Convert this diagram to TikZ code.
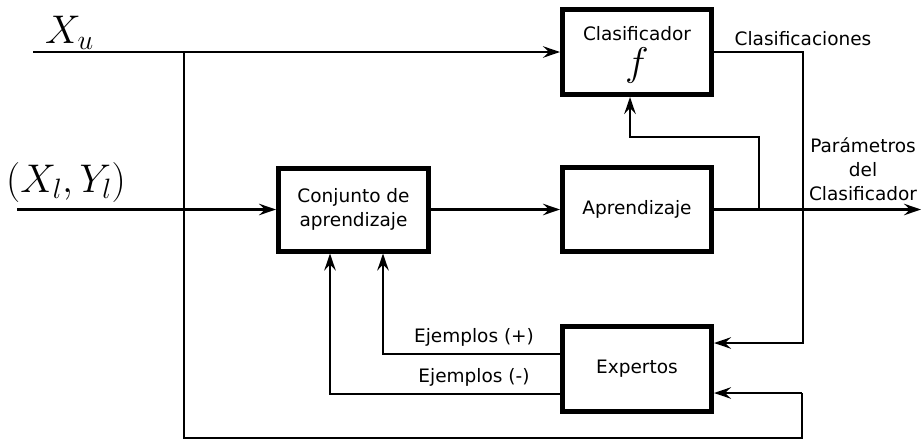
\RequirePackage{fix-cm}
\documentclass[tikz,border=0pt]{standalone}
\usepackage[no-math]{fontspec}
\newfontfamily\djv{DejaVu Sans}
\usetikzlibrary{arrows.meta}
\begin{document}
\begin{tikzpicture}[x=1pt,y=-1pt,
 box/.style={draw, line width=5pt, minimum width=149pt, minimum height=85pt, inner sep=0pt, font=\djv\fontsize{18.5}{24}\selectfont, align=center},
 txt/.style={inner sep=0pt, font=\djv\fontsize{18.5}{24}\selectfont, align=center},
 mth/.style={inner sep=0pt, font=\fontsize{40}{44}\selectfont},
 conn/.style={line width=2.2pt},
 arr/.style={conn, -{Stealth[length=17pt,width=11.5pt,inset=6pt]}}]
\useasboundingbox (0,0) rectangle (921,440);
% boxes
\node[box] (clas) at (637,52) {};
\node[box, minimum height=84pt] (apr) at (637,209.5) {Aprendizaje};
\node[box, minimum width=150pt, minimum height=83pt] (conj) at (353.5,209.5) {Conjunto de\\aprendizaje};
\node[box] (exp) at (637,369) {Expertos};
% texts
\node[txt, anchor=base] (tclas) at (637,40) {Clasificador};
\node[mth, anchor=base] (tf) at (637,75) {$f$};
\node[mth, anchor=base west] (txu) at (45,43) {$X_u$};
\node[mth, anchor=base west] (txl) at (6,192) {$(X_l,Y_l)$};
\node[txt, anchor=base] (tcl) at (803,45) {Clasificaciones};
\node[txt] (tpar) at (863,169) {Parámetros\\del\\Clasificador};
\node[txt] (tep) at (474,337) {Ejemplos (+)};
\node[txt] (tem) at (474,377) {Ejemplos (-)};
% coordinates
\coordinate (xu) at (33,52);
\coordinate (b1) at (184,52);
\coordinate (b2) at (184,438);
\coordinate (b3) at (802,393);
\coordinate (xl) at (17,209.5);
\coordinate (c1) at (803,343);
\coordinate (out) at (921,209.5);
\coordinate (bp) at (759,209.5);
\coordinate (c2) at (630,137);
\coordinate (p1) at (383,354);
\coordinate (p2) at (330,394);
% connectors
\draw[arr] (xu) -- (clas.west);
\draw[conn] (b1) -- (b2) -| (b3);
\draw[arr] (b3) -- (b3 -| exp.east);
\draw[arr] (xl) -- (conj.west);
\draw[arr] (conj.east) -- (apr.west);
\draw[arr] (apr.east) -- (out);
\draw[arr] (bp) |- (c2) -- (c2 |- clas.south);
\draw[arr] (clas.east) -| (c1) -- (c1 -| exp.east);
\draw[arr] (p1 -| exp.west) -- (p1) -- (p1 |- conj.south);
\draw[arr] (p2 -| exp.west) -- (p2) -- (p2 |- conj.south);
\end{tikzpicture}
\end{document}
